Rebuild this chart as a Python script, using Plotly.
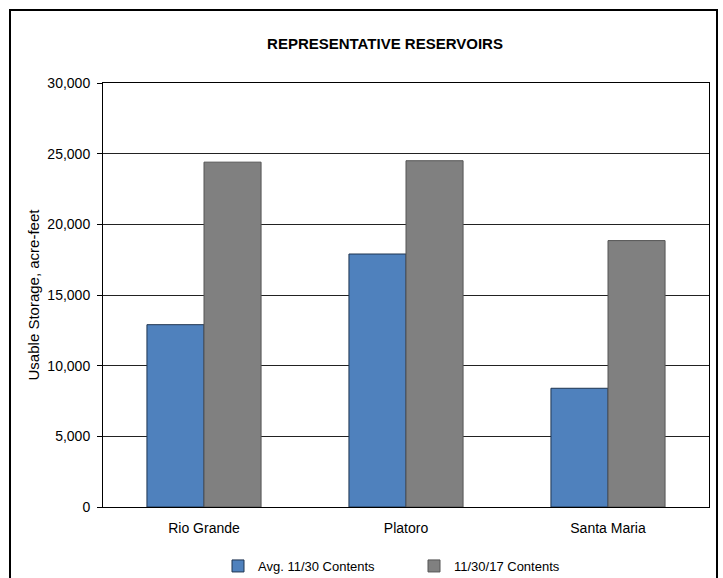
import plotly.graph_objects as go

categories = ["Rio Grande", "Platoro", "Santa Maria"]
avg_contents = [12900, 17900, 8400]
current_contents = [24400, 24500, 18850]
series_names = ["Avg. 11/30 Contents", "11/30/17 Contents"]
y_ticks = [0, 5000, 10000, 15000, 20000, 25000, 30000]

W, H = 723, 578
L, R, T, B = 103, 14, 83, 71
pw, ph = W - L - R, H - T - B

reg = "Liberation Sans, Arial, sans-serif"

fig = go.Figure()
fig.add_trace(go.Bar(x=categories, y=avg_contents, name=series_names[0], legend="legend",
                     marker=dict(color="#4F81BD", line=dict(color="#1F3550", width=1))))
fig.add_trace(go.Bar(x=categories, y=current_contents, name=series_names[1], legend="legend2",
                     marker=dict(color="#808080", line=dict(color="#555555", width=1))))

def px_x(p):
    return (p - L) / pw

def px_y(p):
    return (H - B - p) / ph

legend_common = dict(orientation="h", yref="container", xref="container",
                     y=1 - 566 / H, yanchor="middle", xanchor="left",
                     font=dict(family=reg, size=13, color="black"),
                     itemwidth=30, bgcolor="rgba(0,0,0,0)")

fig.update_layout(
    width=W, height=H,
    margin=dict(l=L, r=R, t=T, b=B, autoexpand=False),
    paper_bgcolor="white", plot_bgcolor="white",
    barmode="group", bargap=0.435, bargroupgap=0,
    title=dict(text="<b>REPRESENTATIVE RESERVOIRS</b>", x=385 / W, xanchor="center",
               y=1 - 44 / H, yanchor="middle",
               font=dict(family=reg, size=15, color="black")),
    font=dict(family=reg, size=14, color="black"),
    xaxis=dict(showline=True, linecolor="black", linewidth=1, mirror=True,
               tickfont=dict(family=reg, size=14), ticks="", ticklabelstandoff=8),
    yaxis=dict(range=[0, 30000], tickvals=y_ticks, tickformat=",d",
               showgrid=True, gridcolor="#222222", gridwidth=1,
               showline=True, linecolor="black", linewidth=1, mirror=True,
               ticks="outside", ticklen=5, tickcolor="black", ticklabelstandoff=4,
               tickfont=dict(family=reg, size=14),
               title=dict(text="Usable Storage, acre-feet", font=dict(family=reg, size=15),
                          standoff=4),
               zeroline=True, zerolinecolor="black", zerolinewidth=1),
    legend=dict(legend_common, x=(258 - 40) / W),
    legend2=dict(legend_common, x=(454 - 40) / W),
    showlegend=True,
    shapes=[dict(type="rect", xref="paper", yref="paper",
                 x0=px_x(10), x1=px_x(717), y0=px_y(590), y1=px_y(10),
                 line=dict(color="black", width=2), fillcolor="rgba(0,0,0,0)", layer="below")],
)

fig.write_html("out.html")
